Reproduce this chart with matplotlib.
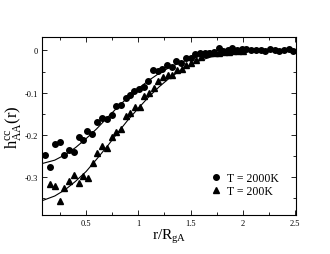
import matplotlib
matplotlib.use("Agg")
import matplotlib.pyplot as plt
from matplotlib.ticker import MultipleLocator

plt.rcParams['font.family'] = ['Liberation Serif', 'DejaVu Serif']
plt.rcParams['mathtext.fontset'] = 'custom'
plt.rcParams['mathtext.rm'] = 'Liberation Serif'
plt.rcParams['mathtext.it'] = 'Liberation Serif:italic'

# T = 2000K data (circles)
r_hot = [0.106, 0.157, 0.205, 0.25, 0.292, 0.34, 0.385, 0.43, 0.474, 0.513, 0.558, 0.603,
         0.65, 0.70, 0.744, 0.79, 0.833, 0.878, 0.923, 0.96, 1.006, 1.05, 1.096, 1.14,
         1.186, 1.23, 1.276, 1.32, 1.365, 1.41, 1.455, 1.5, 1.545, 1.59, 1.635, 1.68,
         1.72, 1.77, 1.81, 1.855, 1.9, 1.945, 1.99, 2.035, 2.08, 2.125, 2.17, 2.215,
         2.26, 2.305, 2.35, 2.395, 2.44, 2.485]
h_hot = [-0.248, -0.276, -0.222, -0.216, -0.248, -0.236, -0.240, -0.206, -0.213, -0.190,
         -0.198, -0.170, -0.160, -0.162, -0.152, -0.132, -0.130, -0.112, -0.106, -0.096,
         -0.092, -0.086, -0.072, -0.046, -0.048, -0.044, -0.035, -0.038, -0.025, -0.029,
         -0.017, -0.017, -0.009, -0.006, -0.005, -0.005, -0.003, 0.005, -0.001, 0.002,
         0.006, 0.001, 0.003, 0.003, 0.002, 0.001, 0.002, -0.001, 0.004, 0.000, -0.002,
         0.002, 0.003, -0.002]

# T = 200K data (triangles)
r_cold = [0.154, 0.202, 0.247, 0.292, 0.337, 0.381, 0.43, 0.474, 0.519, 0.564, 0.609,
          0.654, 0.70, 0.744, 0.79, 0.833, 0.878, 0.923, 0.968, 1.013, 1.058, 1.10,
          1.147, 1.19, 1.237, 1.282, 1.327, 1.372, 1.417, 1.46, 1.506, 1.55, 1.596,
          1.64, 1.686, 1.73, 1.776, 1.82, 1.865, 1.91, 1.955, 2.0]
h_cold = [-0.317, -0.322, -0.358, -0.326, -0.310, -0.296, -0.313, -0.298, -0.302, -0.267,
          -0.243, -0.227, -0.231, -0.205, -0.194, -0.187, -0.156, -0.149, -0.133, -0.133,
          -0.108, -0.100, -0.088, -0.072, -0.062, -0.059, -0.057, -0.046, -0.044, -0.035,
          -0.030, -0.023, -0.015, -0.009, -0.006, -0.005, -0.006, -0.004, -0.003, -0.002,
          -0.002, -0.001]

# fit curves
r_fit = [0.08, 0.2, 0.3, 0.4, 0.5, 0.6, 0.7, 0.8, 0.9, 1.0, 1.1, 1.2, 1.3, 1.4, 1.5,
         1.6, 1.7, 1.8, 1.9, 2.0, 2.2, 2.5]
h_fit_hot = [-0.268, -0.260, -0.247, -0.230, -0.209, -0.186, -0.160, -0.135, -0.111,
             -0.090, -0.071, -0.054, -0.040, -0.029, -0.020, -0.013, -0.008, -0.005,
             -0.003, -0.002, -0.001, 0.0]
h_fit_cold = [-0.356, -0.345, -0.330, -0.310, -0.287, -0.258, -0.228, -0.196, -0.165,
              -0.137, -0.110, -0.086, -0.065, -0.048, -0.034, -0.023, -0.015, -0.009,
              -0.005, -0.003, -0.001, 0.0]

labels = ['T = 2000K', 'T = 200K']

fig = plt.figure(figsize=(3.3, 2.55), dpi=100)
ax = fig.add_axes([0.127, 0.153, 0.77, 0.698])

ax.plot(r_fit, h_fit_hot, color='black', lw=0.8)
ax.plot(r_fit, h_fit_cold, color='black', lw=0.8)
ax.plot(r_hot, h_hot, 'o', color='black', ms=4.0, label=labels[0])
ax.plot(r_cold, h_cold, '^', color='black', ms=4.2, label=labels[1])

ax.set_xlim(0.077, 2.51)
ax.set_ylim(-0.39, 0.032)
ax.xaxis.set_minor_locator(MultipleLocator(0.25))
ax.yaxis.set_minor_locator(MultipleLocator(0.05))
ax.set_xticks([0.5, 1, 1.5, 2, 2.5])
ax.set_xticklabels(['0.5', '1', '1.5', '2', '2.5'])
ax.set_yticks([0, -0.1, -0.2, -0.3])
ax.set_yticklabels(['0', '-0.1', '-0.2', '-0.3'])
ax.tick_params(which='both', direction='in', top=True, right=True, labelsize=6,
               width=0.6, pad=3)
ax.tick_params(which='major', length=3.5)
ax.tick_params(which='minor', length=2)
for s in ax.spines.values():
    s.set_linewidth(0.8)

ax.set_xlabel(r'$\mathrm{r/R_{gA}}$', fontsize=11, labelpad=0)
ax.set_ylabel(r'$\mathrm{h^{cc}_{AA}(r)}$', fontsize=12, labelpad=1)

leg = ax.legend(loc='center left', bbox_to_anchor=(0.663, 0.171), frameon=False,
                fontsize=8.5, handlelength=1.0, handletextpad=0.4, labelspacing=0.05,
                borderpad=0, borderaxespad=0)

fig.savefig('out.png', dpi=100)
